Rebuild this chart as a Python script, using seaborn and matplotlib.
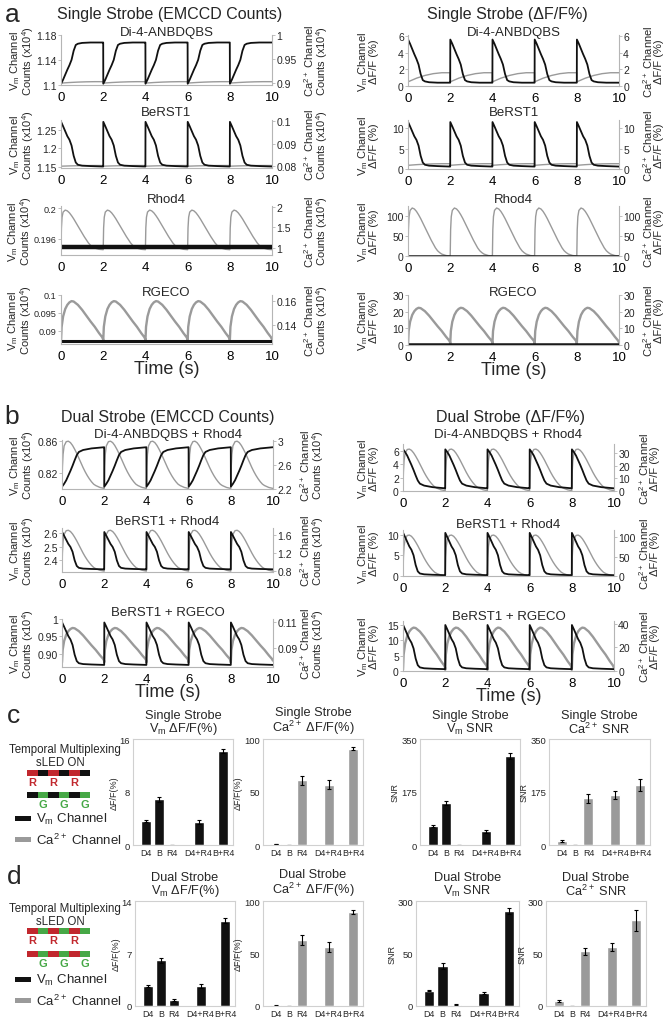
import numpy as np
import pandas as pd
import matplotlib
matplotlib.use('Agg')
import matplotlib.pyplot as plt
from matplotlib.patches import Rectangle
import seaborn as sns

sns.set_style('white')
plt.rcParams['font.family'] = ['Liberation Sans', 'DejaVu Sans']
plt.rcParams['mathtext.default'] = 'regular'

W, H = 668, 1020

# ---- one beat (2 s) shapes, 0 = rest, 1 = peak ----
ap_t = [0, 0.005, 0.1, 0.2, 0.3, 0.4, 0.5, 0.6, 0.7, 0.8, 1.0, 1.4, 1.995]
ap_di4 = [0, 1, 0.9, 0.78, 0.66, 0.55, 0.42, 0.2, 0.06, 0.03, 0.01, 0, 0]
ap_berst = [0, 1, 0.9, 0.79, 0.68, 0.6, 0.47, 0.24, 0.09, 0.04, 0.02, 0.01, 0]
ap_di4_dual = [0, 1, 0.93, 0.84, 0.72, 0.6, 0.47, 0.33, 0.2, 0.12, 0.07, 0.03, 0]

rhod_t = [0, 0.02, 0.05, 0.1, 0.2, 0.3, 0.4, 0.5, 0.6, 0.7, 0.8, 0.9, 1.0,
          1.1, 1.2, 1.3, 1.4, 1.5, 1.6, 1.8, 1.995]
rhod = [0, 0.55, 0.82, 0.95, 1.0, 0.98, 0.93, 0.86, 0.78, 0.69, 0.6, 0.51, 0.42,
        0.33, 0.25, 0.17, 0.11, 0.07, 0.04, 0.01, 0]
rhod_dual = [0, 0.45, 0.72, 0.9, 0.99, 1.0, 0.97, 0.91, 0.83, 0.74, 0.64, 0.54, 0.44,
             0.35, 0.27, 0.2, 0.14, 0.09, 0.06, 0.02, 0]

rgeco_t = [0, 0.03, 0.1, 0.2, 0.3, 0.4, 0.5, 0.6, 0.8, 1.0, 1.2, 1.4, 1.6, 1.8, 1.95, 1.995]
rgeco = [0, 0.35, 0.6, 0.78, 0.88, 0.94, 0.97, 0.96, 0.88, 0.76, 0.62, 0.48, 0.35, 0.2, 0.1, 0.05]

leak_t = [0, 0.4, 0.8, 1.2, 1.6, 1.995]
leak = [0, 0.4, 0.7, 0.9, 1.0, 1.0]

flat_t = [0, 1.995]
flat = [0, 0]

shapes = {'di4': (ap_t, ap_di4), 'berst': (ap_t, ap_berst), 'di4d': (ap_t, ap_di4_dual),
          'rhod': (rhod_t, rhod), 'rhodd': (rhod_t, rhod_dual), 'rgeco': (rgeco_t, rgeco),
          'leak': (leak_t, leak), 'flat': (flat_t, flat)}

# ---- traces: (shape, rest value, peak value) ----
a_titles = ['Di-4-ANBDQBS', 'BeRST1', 'Rhod4', 'RGECO']
a_cnt_vm = [('di4', 1.168, 1.102), ('berst', 1.150, 1.272), ('flat', 0.1949, 0.1949), ('flat', 0.0871, 0.0871)]
a_cnt_ca = [('leak', 0.899, 0.902), ('leak', 0.0801, 0.0804), ('rhod', 0.95, 1.92), ('rgeco', 0.127, 0.161)]
a_cnt_ylim_l = [(1.1, 1.18), (1.146, 1.277), (0.1939, 0.2003), (0.0862, 0.1)]
a_cnt_ylim_r = [(0.895, 1.0), (0.0793, 0.1005), (0.82, 2.02), (0.1248, 0.165)]
a_cnt_ticks_l = [[1.1, 1.14, 1.18], [1.15, 1.2, 1.25], [0.196, 0.2], [0.09, 0.095, 0.1]]
a_cnt_tlab_l = [['1.1', '1.14', '1.18'], ['1.15', '1.2', '1.25'], ['0.196', '0.2'], ['0.09', '0.095', '0.1']]
a_cnt_ticks_r = [[0.9, 0.95, 1.0], [0.08, 0.09, 0.1], [1, 1.5, 2], [0.14, 0.16]]
a_cnt_tlab_r = [['0.9', '0.95', '1'], ['0.08', '0.09', '0.1'], ['1', '1.5', '2'], ['0.14', '0.16']]

a_dff_vm = [('di4', 0.4, 5.6), ('berst', 0.6, 11.5), ('flat', 0, 0), ('flat', 0.8, 0.8)]
a_dff_ca = [('leak', 0.5, 1.6), ('leak', 0.9, 1.3), ('rhod', 0, 120), ('rgeco', 0.5, 23)]
a_dff_ylim = [(0, 6.15), (0, 12), (0, 125), (0, 30)]
a_dff_ticks = [[0, 2, 4, 6], [0, 5, 10], [0, 50, 100], [0, 10, 20, 30]]

b_titles = ['Di-4-ANBDQBS + Rhod4', 'BeRST1 + Rhod4', 'BeRST1 + RGECO']
b_cnt_vm = [('di4d', 0.852, 0.803), ('berst', 2.33, 2.61), ('berst', 0.868, 0.99)]
b_cnt_ca = [('rhodd', 2.21, 3.0), ('rhodd', 0.8, 1.7), ('rgeco', 0.079, 0.106)]
b_cnt_ylim_l = [(0.80, 0.861), (2.31, 2.64), (0.862, 1.0)]
b_cnt_ylim_r = [(2.2, 3.02), (0.78, 1.75), (0.0755, 0.112)]
b_cnt_ticks_l = [[0.82, 0.86], [2.4, 2.5, 2.6], [0.9, 0.95, 1.0]]
b_cnt_tlab_l = [['0.82', '0.86'], ['2.4', '2.5', '2.6'], ['0.90', '0.95', '1']]
b_cnt_ticks_r = [[2.2, 2.6, 3.0], [0.8, 1.2, 1.6], [0.09, 0.11]]
b_cnt_tlab_r = [['2.2', '2.6', '3'], ['0.8', '1.2', '1.6'], ['0.09', '0.11']]

b_dff_vm = [('di4d', 0.4, 6.2), ('berst', 0.2, 10.5), ('berst', 0.6, 15)]
b_dff_ca = [('rhodd', 0.3, 33), ('rhodd', 0.3, 105), ('rgeco', 1, 38)]
b_dff_ylim_l = [(0, 7), (0, 11.2), (0, 16.3)]
b_dff_ylim_r = [(0, 37), (0, 118), (0, 42.5)]
b_dff_ticks_l = [[0, 2, 4, 6], [0, 5, 10], [0, 5, 10, 15]]
b_dff_ticks_r = [[0, 10, 20, 30], [0, 50, 100], [0, 20, 40]]

time_ticks = [0, 2, 4, 6, 8, 10]

# ---- bar data ----
bar_labels = ['D4', 'B', 'R4', 'D4+R4', 'B+R4']
bar_pos = [0, 1, 2, 4, 5.85]
single_vm_dff = [3.6, 6.9, 0.0, 3.5, 14.2]
single_vm_dff_err = [0.2, 0.4, 0.0, 0.3, 0.3]
single_ca_dff = [0.8, 0.0, 61, 57, 91]
single_ca_dff_err = [0.3, 0.0, 4, 4, 1.5]
single_vm_snr = [63, 139, 0, 46, 295]
single_vm_snr_err = [4, 7, 0, 5, 10]
single_ca_snr = [13, 0, 155, 165, 198]
single_ca_snr_err = [2, 0, 15, 12, 20]
dual_vm_dff = [2.7, 6.1, 0.8, 2.7, 11.4]
dual_vm_dff_err = [0.1, 0.3, 0.1, 0.3, 0.3]
dual_ca_dff = [0.5, 0.0, 63, 56, 89.5]
dual_ca_dff_err = [0.3, 0.0, 5, 5, 1.5]
dual_vm_snr = [44, 115, 4, 37, 272]
dual_vm_snr_err = [2, 8, 1, 3, 8]
dual_ca_snr = [14, 1, 156, 169, 245]
dual_ca_snr_err = [2, 0, 10, 12, 30]

strip_c_top = ['r', 'k', 'r', 'k', 'r', 'k']
strip_c_bot = ['k', 'g', 'k', 'g', 'k', 'g']
strip_d_top = ['r', 'g', 'r', 'g', 'r', 'g']
strip_d_bot = ['r', 'g', 'r', 'g', 'r', 'g']

BLACK = '#111111'
GRAY = '#9a9a9a'
SPINE = '#b5b5b5'
BLUE = '#4a9be0'
RED = '#c1272d'
GREEN = '#46a846'
strip_col = {'r': RED, 'g': GREEN, 'k': BLACK}


def box(x0, y0, x1, y1):
    return [x0 / W, 1 - y1 / H, (x1 - x0) / W, (y1 - y0) / H]


def beats(spec):
    name, rest, peak = spec
    t, v = shapes[name]
    tt = np.concatenate([np.array(t) + 2 * k for k in range(5)])
    vv = np.tile(rest + (peak - rest) * np.array(v), 5)
    return pd.DataFrame({'t': tt, 'v': vv})


fig = plt.figure(figsize=(W / 100, H / 100), dpi=100)
ov = fig.add_axes([0, 0, 1, 1])
ov.set_xlim(0, W)
ov.set_ylim(H, 0)
ov.axis('off')


def trace_panel(pos, lab_px, title, ty, vm, ca, yl, yr, tl, tr, labl, labr,
                ll=None, lr=None, xlabel=False, vm_lw=1.3):
    x0, y0, x1, y1 = pos
    ax = fig.add_axes(box(*pos))
    tw = ax.twinx()
    lw_ca = 1.7 if ca[0] == 'rgeco' else 1.0
    sns.lineplot(data=beats(ca), x='t', y='v', ax=tw, color=GRAY, lw=lw_ca, estimator=None, sort=False)
    sns.lineplot(data=beats(vm), x='t', y='v', ax=ax, color=BLACK, lw=vm_lw, estimator=None, sort=False)
    ax.set_zorder(tw.get_zorder() + 1)
    ax.patch.set_visible(False)
    ax.set_xlim(0, 10)
    ax.set_ylim(*yl)
    tw.set_ylim(*yr)
    ax.set_xticks(time_ticks)
    ax.set_xticklabels([str(x) for x in time_ticks])
    ax.set_yticks(tl)
    tw.set_yticks(tr)
    left_labels = ll if ll else [f'{v:g}' for v in tl]
    ax.set_yticklabels(left_labels)
    tw.set_yticklabels(lr if lr else [f'{v:g}' for v in tr])
    for a in (ax, tw):
        for s in a.spines.values():
            s.set_color(SPINE)
            s.set_linewidth(0.8)
        a.spines['top'].set_visible(False)
    ax.spines['right'].set_visible(False)
    tw.spines['left'].set_visible(False)
    tw.spines['bottom'].set_visible(False)
    wide = max(len(s) for s in left_labels) >= 5
    ax.tick_params(axis='x', colors=BLUE, length=3, width=1.6, pad=1, labelsize=9.5, labelcolor='black')
    ax.tick_params(axis='y', length=2, width=0.6, color=SPINE, pad=1, labelsize=6.6 if wide else 7.5)
    tw.tick_params(axis='y', length=2, width=0.6, color=SPINE, pad=1, labelsize=7.5)
    ax.set_xlabel('Time (s)' if xlabel else '', fontsize=13, labelpad=-1)
    ax.set_ylabel(labl, fontsize=8, linespacing=0.85)
    tw.set_ylabel(labr, fontsize=8, linespacing=0.85, rotation=90)
    lx = lab_px[0] - (2 if wide else 0)
    ax.yaxis.set_label_coords((lx - x0) / (x1 - x0), 0.5)
    tw.yaxis.set_label_coords((lab_px[1] - x0) / (x1 - x0), 0.5)
    ov.text((x0 + x1) / 2, ty, title, ha='center', va='center', fontsize=9.5)
    return ax


cnt_vm = 'V$_m$ Channel\nCounts (x10$^4$)'
cnt_ca = 'Ca$^{2+}$ Channel\nCounts (x10$^4$)'
dff_vm = 'V$_m$ Channel\nΔF/F (%)'
dff_ca = 'Ca$^{2+}$ Channel\nΔF/F (%)'

a_rows = [(36, 86), (121, 169), (207, 256), (296, 345)]
a_ty = [33, 113, 200, 293]
for i in range(4):
    y0, y1 = a_rows[i]
    noisy = 3.2 if i == 2 else (2.2 if i == 3 else 1.3)
    trace_panel((61, y0, 272, y1), (36, 302), a_titles[i], a_ty[i], a_cnt_vm[i], a_cnt_ca[i],
                a_cnt_ylim_l[i], a_cnt_ylim_r[i], a_cnt_ticks_l[i], a_cnt_ticks_r[i],
                cnt_vm, cnt_ca, a_cnt_tlab_l[i], a_cnt_tlab_r[i], xlabel=(i == 3), vm_lw=noisy)
    trace_panel((408, y0, 619, y1 + 1), (379, 641), a_titles[i], a_ty[i], a_dff_vm[i], a_dff_ca[i],
                a_dff_ylim[i], a_dff_ylim[i], a_dff_ticks[i], a_dff_ticks[i],
                dff_vm, dff_ca, xlabel=(i == 3), vm_lw=1.3 if i < 2 else 1.8)

b_rows_l = [(441, 490), (529, 573), (620, 668)]
b_rows_r = [(445, 492), (531, 577), (622, 672)]
b_ty_l = [435, 522, 613]
b_ty_r = [435, 525, 617]
for i in range(3):
    y0, y1 = b_rows_l[i]
    trace_panel((62, y0, 273, y1), (36, 298), b_titles[i], b_ty_l[i], b_cnt_vm[i], b_cnt_ca[i],
                b_cnt_ylim_l[i], b_cnt_ylim_r[i], b_cnt_ticks_l[i], b_cnt_ticks_r[i],
                cnt_vm, cnt_ca, b_cnt_tlab_l[i], b_cnt_tlab_r[i], xlabel=(i == 2))
    y0, y1 = b_rows_r[i]
    trace_panel((403, y0, 614, y1), (379, 637), b_titles[i], b_ty_r[i], b_dff_vm[i], b_dff_ca[i],
                b_dff_ylim_l[i], b_dff_ylim_r[i], b_dff_ticks_l[i], b_dff_ticks_r[i],
                dff_vm, dff_ca, xlabel=(i == 2))

# ---- headers ----
ov.text(12, 15, 'a', fontsize=19, ha='center', va='center')
ov.text(170, 15, 'Single Strobe (EMCCD Counts)', fontsize=11.5, ha='center', va='center')
ov.text(507, 15, 'Single Strobe (ΔF/F%)', fontsize=11.5, ha='center', va='center')
ov.text(12, 417, 'b', fontsize=19, ha='center', va='center')
ov.text(168, 418, 'Dual Strobe (EMCCD Counts)', fontsize=11.5, ha='center', va='center')
ov.text(511, 418, 'Dual Strobe (ΔF/F%)', fontsize=11.5, ha='center', va='center')
ov.text(14, 716, 'c', fontsize=19, ha='center', va='center')
ov.text(14, 877, 'd', fontsize=19, ha='center', va='center')


def bar_panel(pos, vals, errs, color, ylim, yticks, ylabel, title, ytlab=None):
    ax = fig.add_axes(box(*pos))
    df = pd.DataFrame({'pos': bar_pos, 'val': vals})
    sns.barplot(data=df, x='pos', y='val', native_scale=True, color=color, width=0.75,
                saturation=1, ax=ax, errorbar=None)
    ax.errorbar(bar_pos, vals, yerr=errs, fmt='none', ecolor='black', elinewidth=0.8,
                capsize=1.5, capthick=0.8)
    ax.set_xlim(-0.95, 6.6)
    ax.set_ylim(*ylim)
    ax.set_xticks(bar_pos)
    ax.set_xticklabels(bar_labels)
    ax.set_yticks(yticks)
    ax.set_yticklabels(ytlab if ytlab else [f'{v:g}' for v in yticks])
    ax.tick_params(length=0, pad=2, labelsize=6.4)
    ax.tick_params(axis='y', labelsize=6.8)
    ax.set_xlabel('')
    ax.set_ylabel(ylabel, fontsize=6.5, labelpad=1)
    for s in ax.spines.values():
        s.set_color('#d0d0d0')
        s.set_linewidth(0.8)
    ov.text((pos[0] + pos[2]) / 2, pos[1] - 3, title, ha='center', va='bottom',
            fontsize=9.2, linespacing=0.95)


c_y = (740, 846)
d_y = (902, 1007)
bar_panel((133, c_y[0], 233, c_y[1]), single_vm_dff, single_vm_dff_err, BLACK, (0, 16), [0, 8, 16],
          'ΔF/F(%)', 'Single Strobe\nV$_m$ ΔF/F(%)')
bar_panel((263, c_y[0], 363, c_y[1]), single_ca_dff, single_ca_dff_err, GRAY, (0, 100), [0, 50, 100],
          'ΔF/F(%)', 'Single Strobe\nCa$^{2+}$ ΔF/F(%)')
bar_panel((420, c_y[0], 520, c_y[1]), single_vm_snr, single_vm_snr_err, BLACK, (0, 350), [0, 175, 350],
          'SNR', 'Single Strobe\nV$_m$ SNR')
bar_panel((549, c_y[0], 650, c_y[1]), single_ca_snr, single_ca_snr_err, GRAY, (0, 350), [0, 175, 350],
          'SNR', 'Single Strobe\nCa$^{2+}$ SNR')
bar_panel((135, d_y[0], 235, d_y[1]), dual_vm_dff, dual_vm_dff_err, BLACK, (0, 14), [0, 7, 14],
          'ΔF/F(%)', 'Dual Strobe\nV$_m$ ΔF/F(%)')
bar_panel((263, d_y[0], 363, d_y[1]), dual_ca_dff, dual_ca_dff_err, GRAY, (0, 100), [0, 50, 100],
          'ΔF/F(%)', 'Dual Strobe\nCa$^{2+}$ ΔF/F(%)')
bar_panel((416, d_y[0], 519, d_y[1]), dual_vm_snr, dual_vm_snr_err, BLACK, (0, 300), [0, 150, 300],
          'SNR', 'Dual Strobe\nV$_m$ SNR', ['0', '50', '300'])
bar_panel((546, d_y[0], 646, d_y[1]), dual_ca_snr, dual_ca_snr_err, GRAY, (0, 300), [0, 150, 300],
          'SNR', 'Dual Strobe\nCa$^{2+}$ SNR', ['0', '50', '300'])


# ---- temporal multiplexing keys ----
def mux_key(y_head, strip_top, strip_bot, y_s1, y_s2, y_leg):
    ov.text(65, y_head, 'Temporal Multiplexing', ha='center', va='center', fontsize=8.3)
    ov.text(60, y_head + 13, 'sLED ON', ha='center', va='center', fontsize=8.3)
    seg = (90 - 27) / 6
    for j, c in enumerate(strip_top):
        ov.add_patch(Rectangle((27 + j * seg, y_s1 - 3), seg, 6, color=strip_col[c], lw=0))
        if c == 'r':
            ov.text(27 + (j + 0.5) * seg, y_s1 + 9, 'R', color=RED, ha='center', va='center',
                    fontsize=8, fontweight='bold')
    for j, c in enumerate(strip_bot):
        ov.add_patch(Rectangle((27 + j * seg, y_s2 - 3), seg, 6, color=strip_col[c], lw=0))
        if c == 'g':
            ov.text(27 + (j + 0.5) * seg, y_s2 + 9, 'G', color=GREEN, ha='center', va='center',
                    fontsize=8, fontweight='bold')
    ov.add_patch(Rectangle((15, y_leg - 2.5), 16, 5, color=BLACK, lw=0))
    ov.text(36, y_leg, 'V$_m$ Channel', ha='left', va='center', fontsize=9.5)
    ov.add_patch(Rectangle((15, y_leg + 21 - 2.5), 16, 5, color=GRAY, lw=0))
    ov.text(36, y_leg + 21, 'Ca$^{2+}$ Channel', ha='left', va='center', fontsize=9.5)


mux_key(750, strip_c_top, strip_c_bot, 774, 796, 819)
mux_key(909, strip_d_top, strip_d_bot, 932, 955, 980)

fig.savefig('out.png', dpi=100)
